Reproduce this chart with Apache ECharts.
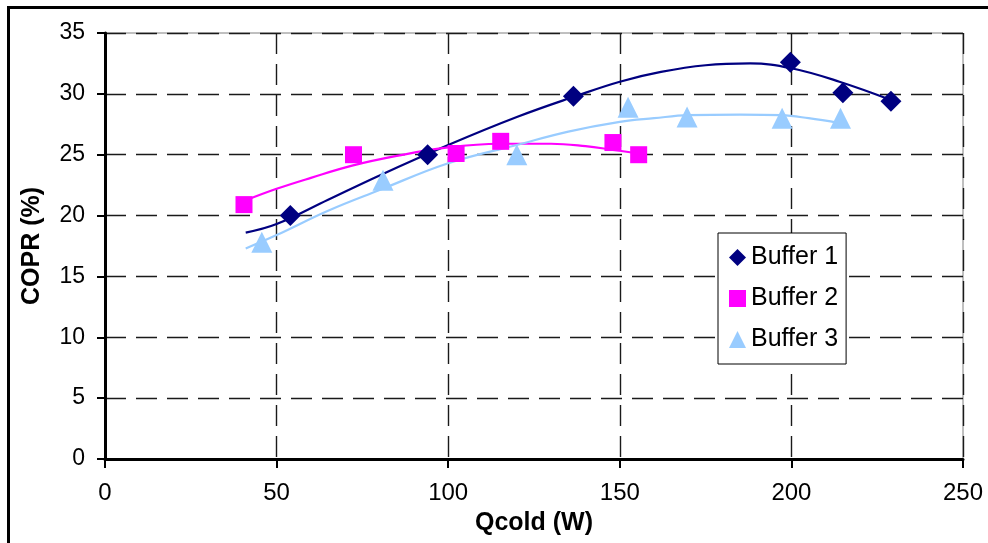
<!DOCTYPE html>
<html>
<head>
<meta charset="utf-8">
<script src="https://cdn.jsdelivr.net/npm/echarts@6/dist/echarts.min.js"></script>
<style>
  html, body { margin: 0; padding: 0; background: #fff; }
  #chart { width: 988px; height: 543px; }
</style>
</head>
<body>
<div id="chart"></div>
<script>
// Measured points: cooling power Qcold (W) vs COPR (%)
const buffer1X = [54, 94, 136.5, 199.7, 215, 229];
const buffer1Y = [20.0, 25.0, 29.8, 32.6, 30.1, 29.4];
const buffer2X = [40.5, 72.4, 102.3, 115.3, 148, 155.5];
const buffer2Y = [20.9, 25.0, 25.1, 26.1, 26.0, 25.0];
const buffer3X = [45.7, 81, 120, 152.4, 169.6, 197.3, 214.3];
const buffer3Y = [17.8, 22.9, 25.0, 28.9, 28.1, 28.0, 28.0];

// Trend curves through each data set
const trend1X = [41, 50, 65, 80, 100, 120, 137, 150, 162, 175, 188, 200, 214, 229];
const trend1Y = [18.6, 19.3, 21.3, 23.3, 25.8, 28.1, 29.8, 31.0, 31.8, 32.35, 32.5, 32.1, 31.0, 29.5];
const trend2X = [40.5, 50, 60, 72, 85, 100, 115, 130, 140, 148, 155.5];
const trend2Y = [21.2, 22.2, 23.1, 24.1, 24.9, 25.6, 25.9, 25.9, 25.7, 25.4, 25.1];
const trend3X = [41, 50, 65, 80, 100, 120, 135, 150, 160, 170, 185, 197, 205, 214];
const trend3Y = [17.3, 18.4, 20.4, 22.1, 24.3, 25.8, 26.9, 27.7, 28.0, 28.25, 28.3, 28.25, 28.0, 27.6];

const seriesNames = ['Buffer 1', 'Buffer 2', 'Buffer 3'];
const colors = ['#000080', '#FF00FF', '#99CCFF'];

const pairs = (xs, ys) => xs.map((x, i) => [x, ys[i]]);

const FONT = '"Liberation Sans", Arial, sans-serif';

const chart = echarts.init(document.getElementById('chart'), null, { renderer: 'canvas' });

const gridLine = { show: true, lineStyle: { color: '#1a1a1a', width: 1.4, type: [21, 10] } };

chart.setOption({
  animation: false,
  backgroundColor: '#fff',
  textStyle: { fontFamily: FONT, color: '#000' },
  graphic: [{
    type: 'rect',
    shape: { x: 8.5, y: 7.5, width: 1000, height: 600 },
    style: { fill: 'none', stroke: '#000', lineWidth: 3 },
    z: 100
  }],
  grid: {
    left: 105, right: 25, top: 33, bottom: 84,
    show: true, borderColor: '#808080', borderWidth: 1, backgroundColor: '#fff'
  },
  legend: {
    data: seriesNames,
    orient: 'vertical',
    left: 718, top: 233,
    padding: [12, 8, 12, 11],
    itemGap: 16,
    itemWidth: 17, itemHeight: 17,
    itemTextGap: 6,
    backgroundColor: '#fff',
    borderColor: '#000', borderWidth: 1,
    textStyle: { fontFamily: FONT, fontSize: 25, color: '#000' }
  },
  xAxis: {
    type: 'value', min: 0, max: 250, interval: 50,
    name: 'Qcold (W)', nameLocation: 'middle', nameGap: 52,
    nameTextStyle: { fontFamily: FONT, fontSize: 25, fontWeight: 'bold', color: '#000' },
    axisLine: { show: true, onZero: false, lineStyle: { color: '#000', width: 3 } },
    axisTick: { show: true, length: 9, lineStyle: { color: '#000', width: 2 } },
    axisLabel: { fontFamily: FONT, fontSize: 24, color: '#000', margin: 22 },
    splitLine: gridLine
  },
  yAxis: {
    type: 'value', min: 0, max: 35, interval: 5,
    name: 'COPR (%)', nameLocation: 'middle', nameGap: 60, nameRotate: 90,
    nameTextStyle: { fontFamily: FONT, fontSize: 25, fontWeight: 'bold', color: '#000' },
    axisLine: { show: true, onZero: false, lineStyle: { color: '#000', width: 3 } },
    axisTick: { show: true, length: 8, lineStyle: { color: '#000', width: 2 } },
    axisLabel: { fontFamily: FONT, fontSize: 23, color: '#000', margin: 20 },
    splitLine: gridLine
  },
  series: [
    {
      name: 'Buffer 1 trend', type: 'line', data: pairs(trend1X, trend1Y),
      smooth: 0.4, symbol: 'none', lineStyle: { color: colors[0], width: 2.2 }, z: 3
    },
    {
      name: 'Buffer 2 trend', type: 'line', data: pairs(trend2X, trend2Y),
      smooth: 0.4, symbol: 'none', lineStyle: { color: colors[1], width: 2.2 }, z: 3
    },
    {
      name: 'Buffer 3 trend', type: 'line', data: pairs(trend3X, trend3Y),
      smooth: 0.4, symbol: 'none', lineStyle: { color: colors[2], width: 2.2 }, z: 3
    },
    {
      name: 'Buffer 1', type: 'scatter', data: pairs(buffer1X, buffer1Y),
      symbol: 'diamond', symbolSize: 21, itemStyle: { color: colors[0], opacity: 1 }, z: 5
    },
    {
      name: 'Buffer 2', type: 'scatter', data: pairs(buffer2X, buffer2Y),
      symbol: 'rect', symbolSize: 17, itemStyle: { color: colors[1], opacity: 1 }, z: 5
    },
    {
      name: 'Buffer 3', type: 'scatter', data: pairs(buffer3X, buffer3Y),
      symbol: 'triangle', symbolSize: 21, itemStyle: { color: colors[2], opacity: 1 }, z: 5
    }
  ]
});
</script>
</body>
</html>
